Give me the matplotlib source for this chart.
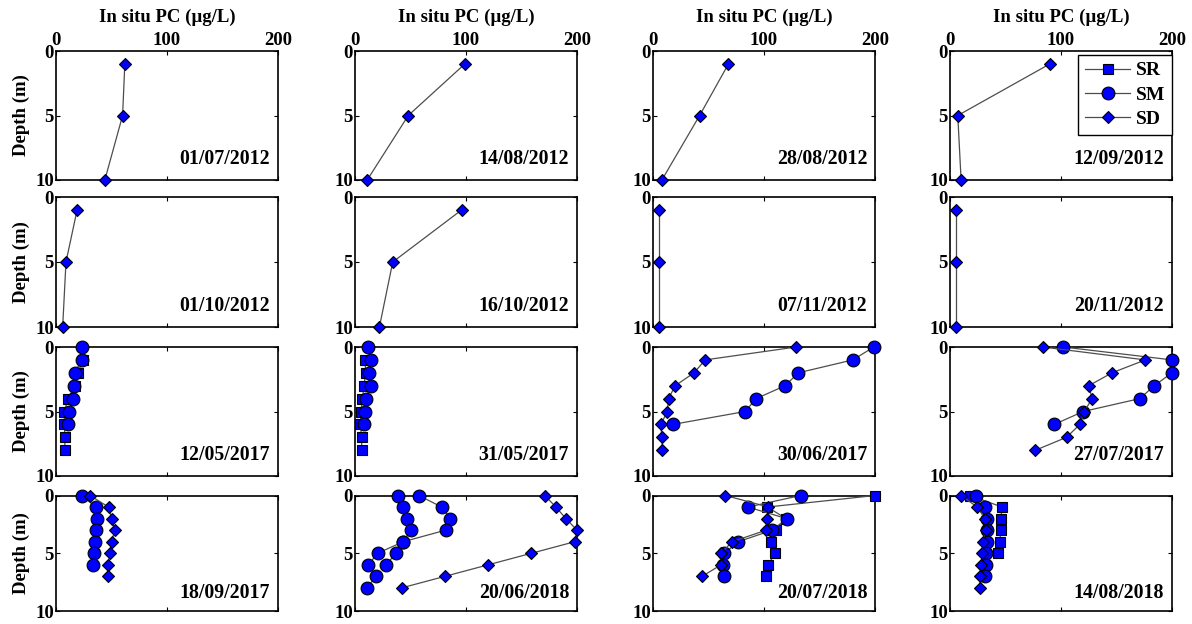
import matplotlib
matplotlib.use("Agg")
import matplotlib.pyplot as plt
from matplotlib.lines import Line2D

plt.rcParams['font.family'] = ['Liberation Serif', 'DejaVu Serif']
plt.rcParams['font.weight'] = 'bold'

# ---------------- data ----------------
dates = ['01/07/2012', '14/08/2012', '28/08/2012', '12/09/2012',
         '01/10/2012', '16/10/2012', '07/11/2012', '20/11/2012',
         '12/05/2017', '31/05/2017', '30/06/2017', '27/07/2017',
         '18/09/2017', '20/06/2018', '20/07/2018', '14/08/2018']

x_ticks = [0, 100, 200]
y_ticks = [0, 5, 10]

depth_2012 = [1, 5, 10]
sd_20120701 = [62, 60, 44]
sd_20120814 = [99, 48, 11]
sd_20120828 = [68, 42, 8]
sd_20120912 = [90, 7, 10]
sd_20121001 = [19, 9, 6]
sd_20121016 = [96, 34, 22]
sd_20121107 = [5, 5, 5]
sd_20121120 = [5, 5, 5]

# 12/05/2017
sm_20170512_depth = [0, 1, 2, 3, 4, 5, 6]
sm_20170512 = [23, 23.4, 16.8, 16.2, 15, 11.4, 10.5]
sr_20170512_depth = [1, 2, 3, 4, 5, 6, 7, 8]
sr_20170512 = [24, 20, 16.8, 11, 7.5, 7.5, 8, 8]

# 31/05/2017
sm_20170531_depth = [0, 1, 2, 3, 4, 5, 6]
sm_20170531 = [11.4, 14.4, 12.6, 14.1, 9.6, 9, 8.4]
sr_20170531_depth = [1, 2, 3, 4, 5, 6, 7, 8]
sr_20170531 = [9, 9.6, 8.1, 6.6, 5.4, 4.8, 6, 6]

# 30/06/2017
sm_20170630_depth = [0, 1, 2, 3, 4, 5, 6]
sm_20170630 = [199, 180, 131, 119, 93, 83, 18]
sd_20170630_depth = [0, 1, 2, 3, 4, 5, 6, 7, 8]
sd_20170630 = [129, 47, 37, 20, 14, 13, 7, 8, 8.5]

# 27/07/2017
sm_20170727_depth = [0, 1, 2, 3, 4, 5, 6]
sm_20170727 = [102, 200, 200, 184, 171, 120, 94]
sd_20170727_depth = [0, 1, 2, 3, 4, 5, 6, 7, 8]
sd_20170727 = [83.5, 176, 146, 125, 128, 121, 117, 105, 77]

# 18/09/2017
sm_20170918_depth = [0, 1, 2, 3, 4, 5, 6]
sm_20170918 = [23, 36, 36.6, 36, 35, 34.5, 33]
sd_20170918_depth = [0, 1, 2, 3, 4, 5, 6, 7]
sd_20170918 = [30.6, 47.4, 50, 53, 50, 48.6, 47, 46.5]

# 20/06/2018 (two circle profiles)
sm1_20180620_depth = [0, 1, 2, 3, 4, 5, 6]
sm1_20180620 = [39, 43.5, 46.5, 50, 43.5, 37, 28]
sm2_20180620_depth = [0, 1, 2, 3, 4, 5, 6, 7, 8]
sm2_20180620 = [57.7, 78, 86, 81.7, 43.5, 20.4, 12, 19, 10.5]
sd_20180620_depth = [0, 1, 2, 3, 4, 5, 6, 7, 8]
sd_20180620 = [171, 181, 190, 200, 198, 159, 120, 81, 42]

# 20/07/2018
sr_20180720_depth = [0, 1, 2, 3, 4, 5, 6, 7]
sr_20180720 = [200, 103, 120, 110.5, 106, 109.6, 104, 101.4]
sm_20180720_depth = [0, 1, 2, 3, 4, 5, 6, 7]
sm_20180720 = [133, 85.5, 120.4, 107.5, 76.8, 64.4, 63.2, 64.4]
sd_20180720_depth = [0, 1, 2, 3, 4, 5, 6, 7]
sd_20180720 = [65.3, 104, 103, 102, 71.3, 61.4, 61.4, 44.2]

# 14/08/2018
sr_20180814_depth = [0, 1, 2, 3, 4, 5]
sr_20180814 = [18, 47, 45.6, 45.6, 45, 43.5]
sm_20180814_depth = [0, 1, 2, 3, 4, 5, 6, 7]
sm_20180814 = [23.4, 31.5, 33.6, 33, 33, 32, 32.6, 31.5]
sd_20180814_depth = [0, 1, 2, 3, 4, 5, 6, 7, 8]
sd_20180814 = [9.9, 24.6, 31.5, 32, 30, 29, 28, 27, 27]

# series per panel: (kind, depths, values)
panels = [
    [('SD', depth_2012, sd_20120701)],
    [('SD', depth_2012, sd_20120814)],
    [('SD', depth_2012, sd_20120828)],
    [('SD', depth_2012, sd_20120912)],
    [('SD', depth_2012, sd_20121001)],
    [('SD', depth_2012, sd_20121016)],
    [('SD', depth_2012, sd_20121107)],
    [('SD', depth_2012, sd_20121120)],
    [('SR', sr_20170512_depth, sr_20170512), ('SM', sm_20170512_depth, sm_20170512)],
    [('SR', sr_20170531_depth, sr_20170531), ('SM', sm_20170531_depth, sm_20170531)],
    [('SM', sm_20170630_depth, sm_20170630), ('SD', sd_20170630_depth, sd_20170630)],
    [('SM', sm_20170727_depth, sm_20170727), ('SD', sd_20170727_depth, sd_20170727)],
    [('SM', sm_20170918_depth, sm_20170918), ('SD', sd_20170918_depth, sd_20170918)],
    [('SM', sm1_20180620_depth, sm1_20180620), ('SM', sm2_20180620_depth, sm2_20180620),
     ('SD', sd_20180620_depth, sd_20180620)],
    [('SR', sr_20180720_depth, sr_20180720), ('SM', sm_20180720_depth, sm_20180720),
     ('SD', sd_20180720_depth, sd_20180720)],
    [('SR', sr_20180814_depth, sr_20180814), ('SM', sm_20180814_depth, sm_20180814),
     ('SD', sd_20180814_depth, sd_20180814)],
]

# ---------------- style ----------------
W, H = 1192, 624
marker_style = {
    'SR': dict(marker='s', markersize=6.8, zorder=3),
    'SM': dict(marker='o', markersize=9.2, zorder=4),
    'SD': dict(marker='D', markersize=6.6, zorder=5),
}
line_kw = dict(color='0.3', linewidth=0.9, markerfacecolor='#0000ff',
               markeredgecolor='black', markeredgewidth=0.8)

col_left = [56, 355, 653, 950]
col_w = 222
rows = [(51, 180), (197, 327), (347, 476), (495.5, 611)]
FS = 13.5

fig = plt.figure(figsize=(W / 100, H / 100), dpi=100)

for i, series in enumerate(panels):
    r, c = divmod(i, 4)
    top, bot = rows[r]
    ax = fig.add_axes([col_left[c] / W, 1 - bot / H, col_w / W, (bot - top) / H])
    for kind, d, v in series:
        ax.plot(v, d, clip_on=False, **marker_style[kind], **line_kw)
    ax.set_xlim(0, 200)
    ax.set_ylim(10, 0)
    ax.set_xticks(x_ticks)
    ax.set_yticks(y_ticks)
    ax.tick_params(direction='in', length=3, width=0.8, top=True, right=True,
                   labelsize=FS, pad=1.5)
    if r == 0:
        ax.tick_params(labeltop=True, labelbottom=False)
    else:
        ax.tick_params(labelbottom=False)
    for lab in ax.get_xticklabels() + ax.get_yticklabels():
        lab.set_fontweight('bold')
    for sp in ax.spines.values():
        sp.set_linewidth(1.2)
        sp.set_zorder(2)
    ax.text(0.965, 0.16, dates[i], transform=ax.transAxes, ha='right',
            va='center', fontsize=14.3, fontweight='bold')
    if c == 0:
        ax.set_ylabel('Depth (m)', fontsize=FS, fontweight='bold', labelpad=4)
    if r == 0:
        ax.set_title('In situ PC (\u00b5g/L)', fontsize=FS, fontweight='bold', pad=21)
    if i == 3:
        handles = [Line2D([], [], **marker_style[k], **line_kw) for k in ['SR', 'SM', 'SD']]
        leg = ax.legend(handles, ['SR', 'SM', 'SD'], loc='upper right',
                        bbox_to_anchor=(1.0, 1 - 4 / 129),
                        prop=dict(size=14, weight='bold'), fancybox=False,
                        framealpha=1, edgecolor='black', borderaxespad=0,
                        handlelength=2.3, labelspacing=0.35, borderpad=0.35,
                        handletextpad=0.3)
        leg.get_frame().set_linewidth(1.0)
        leg.set_zorder(10)

fig.savefig('out.png', dpi=100)
